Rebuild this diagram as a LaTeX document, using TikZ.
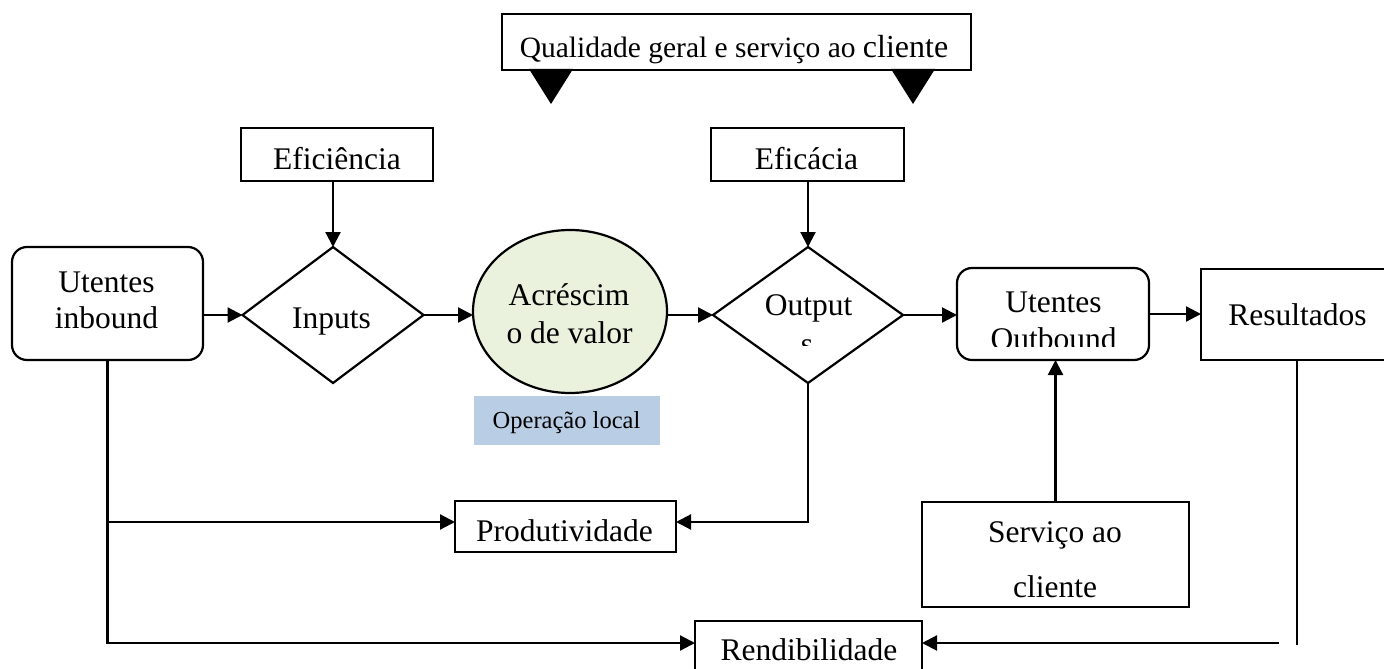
\documentclass[tikz,border=0pt]{standalone}
\usepackage{fontspec}
\setmainfont{Liberation Serif}
\usetikzlibrary{shapes.geometric,arrows.meta,calc}
\definecolor{ellfill}{HTML}{EAF1DD}
\definecolor{opfill}{HTML}{B9CDE5}
\begin{document}
\begin{tikzpicture}[x=1pt,y=-1pt,
  every node/.style={inner sep=0pt,outer sep=0pt},
  box/.style={draw,line width=2.2pt,rectangle},
  rbox/.style={draw,line width=2.2pt,rectangle,rounded corners=15pt},
  dia/.style={draw,line width=2.2pt,diamond},
  lbl/.style={anchor=base,font=\fontsize{31.5}{36}\selectfont},
  conn/.style={line width=2.2pt},
  arr/.style={conn,-{Triangle[length=15pt,width=15pt]}}]
\useasboundingbox (0,0) rectangle (1384,669);
\clip (0,0) rectangle (1384,669);

% top box
\node[box,minimum width=469pt,minimum height=56pt] (qual) at (736.5,42) {};
\node[anchor=base] (qualt) at (734,58) {\fontsize{29.5}{34}\selectfont Qualidade geral e serviço ao {\fontsize{32}{36}\selectfont cliente}};
\fill (529,69) -- (573,69) -- (551,104) -- cycle;
\fill (891,69) -- (935,69) -- (913,104) -- cycle;

% efficiency boxes
\node[box,minimum width=192pt,minimum height=53pt] (efi) at (337,154.5) {};
\node[lbl] (efit) at (337,169) {Eficiência};
\node[box,minimum width=193pt,minimum height=53pt] (efa) at (807.5,154.5) {};
\node[lbl] (efat) at (806.5,169) {Eficácia};

% main row
\node[rbox,minimum width=191pt,minimum height=113pt] (uin) at (107.5,303.5) {};
\node[lbl] (uint1) at (106.5,292) {Utentes};
\node[lbl] (uint2) at (106.5,328) {inbound};

\node[dia,minimum width=181pt,minimum height=136pt] (inputs) at (333,315) {};
\node[lbl] (inpt) at (331.5,328) {Inputs};

\node[draw,ellipse,line width=2.2pt,fill=ellfill,minimum width=194pt,minimum height=163pt] (ell) at (570,311.5) {};
\node[lbl] (ellt1) at (569,305) {Acréscim};
\node[lbl] (ellt2) at (569.5,343) {o de valor};

\node[fill=opfill,minimum width=186pt,minimum height=49pt] (oploc) at (567,420.5) {};
\node[anchor=base,font=\fontsize{24.5}{29}\selectfont] (oplt) at (566.5,428) {Operação local};

\node[dia,minimum width=190pt,minimum height=136pt] (outputs) at (808,315) {};
\node[lbl] (outt1) at (808.5,315) {Output};
\begin{scope}
  \clip (770,330) rectangle (850,345);
  \node[lbl] (outt2) at (807,354) {s};
\end{scope}

\node[rbox,minimum width=192pt,minimum height=92pt] (uout) at (1053,314) {};
\node[lbl] (uoutt1) at (1053.5,312) {Utentes};
\begin{scope}
  \clip (960,320) rectangle (1146,346.5);
  \node[lbl] (uoutt2) at (1053.5,349) {Outbound};
\end{scope}

\node[box,minimum width=219pt,minimum height=91pt] (res) at (1310.5,314.5) {};
\node[lbl] (rest) at (1297.5,325) {Resultados};

% lower boxes
\node[box,minimum width=221pt,minimum height=51pt] (prod) at (565.5,526.5) {};
\node[lbl] (prodt) at (564.5,541) {Produtividade};

\node[box,minimum width=267pt,minimum height=105pt] (serv) at (1055.5,554.5) {};
\node[lbl] (servt1) at (1055,542) {Serviço ao};
\node[lbl] (servt2) at (1055,597) {cliente};

\node[box,minimum width=227pt,minimum height=79pt] (rend) at (808.5,660.5) {};
\node[lbl] (rendt) at (809,660) {Rendibilidade};

% helper coordinates
\coordinate (prodin) at ($(prod.west)+(0,-4.5)$);
\coordinate (prodout) at ($(prod.east)+(0,-4.5)$);
\coordinate (rendin) at ($(rend.north west)+(0,22)$);
\coordinate (resdrop) at (1297,645);
\coordinate (rendfeed) at (1279,643);

% connectors
\draw[arr] (efi.south -| inputs.north) -- (inputs.north);
\draw[arr] (efa.south -| outputs.north) -- (outputs.north);
\draw[arr] (uin.east |- inputs.west) -- (inputs.west);
\draw[arr] (inputs.east) -- (inputs.east -| ell.west);
\draw[arr] (ell.east |- outputs.west) -- (outputs.west);
\draw[arr] (outputs.east) -- (outputs.east -| uout.west);
\draw[arr] (uout.east) -- (uout.east -| res.west);
\draw[arr] (serv.north) -- (serv.north |- uout.south);
\draw[arr] (uin.south) |- (rendin);
\draw[arr] (uin.south |- prodin) -- (prodin);
\draw[arr] (outputs.south) |- (prodout);
\draw[conn] (res.south -| resdrop) -- (resdrop);
\draw[arr] (rendfeed) -- (rendfeed -| rend.east);
\end{tikzpicture}
\end{document}
